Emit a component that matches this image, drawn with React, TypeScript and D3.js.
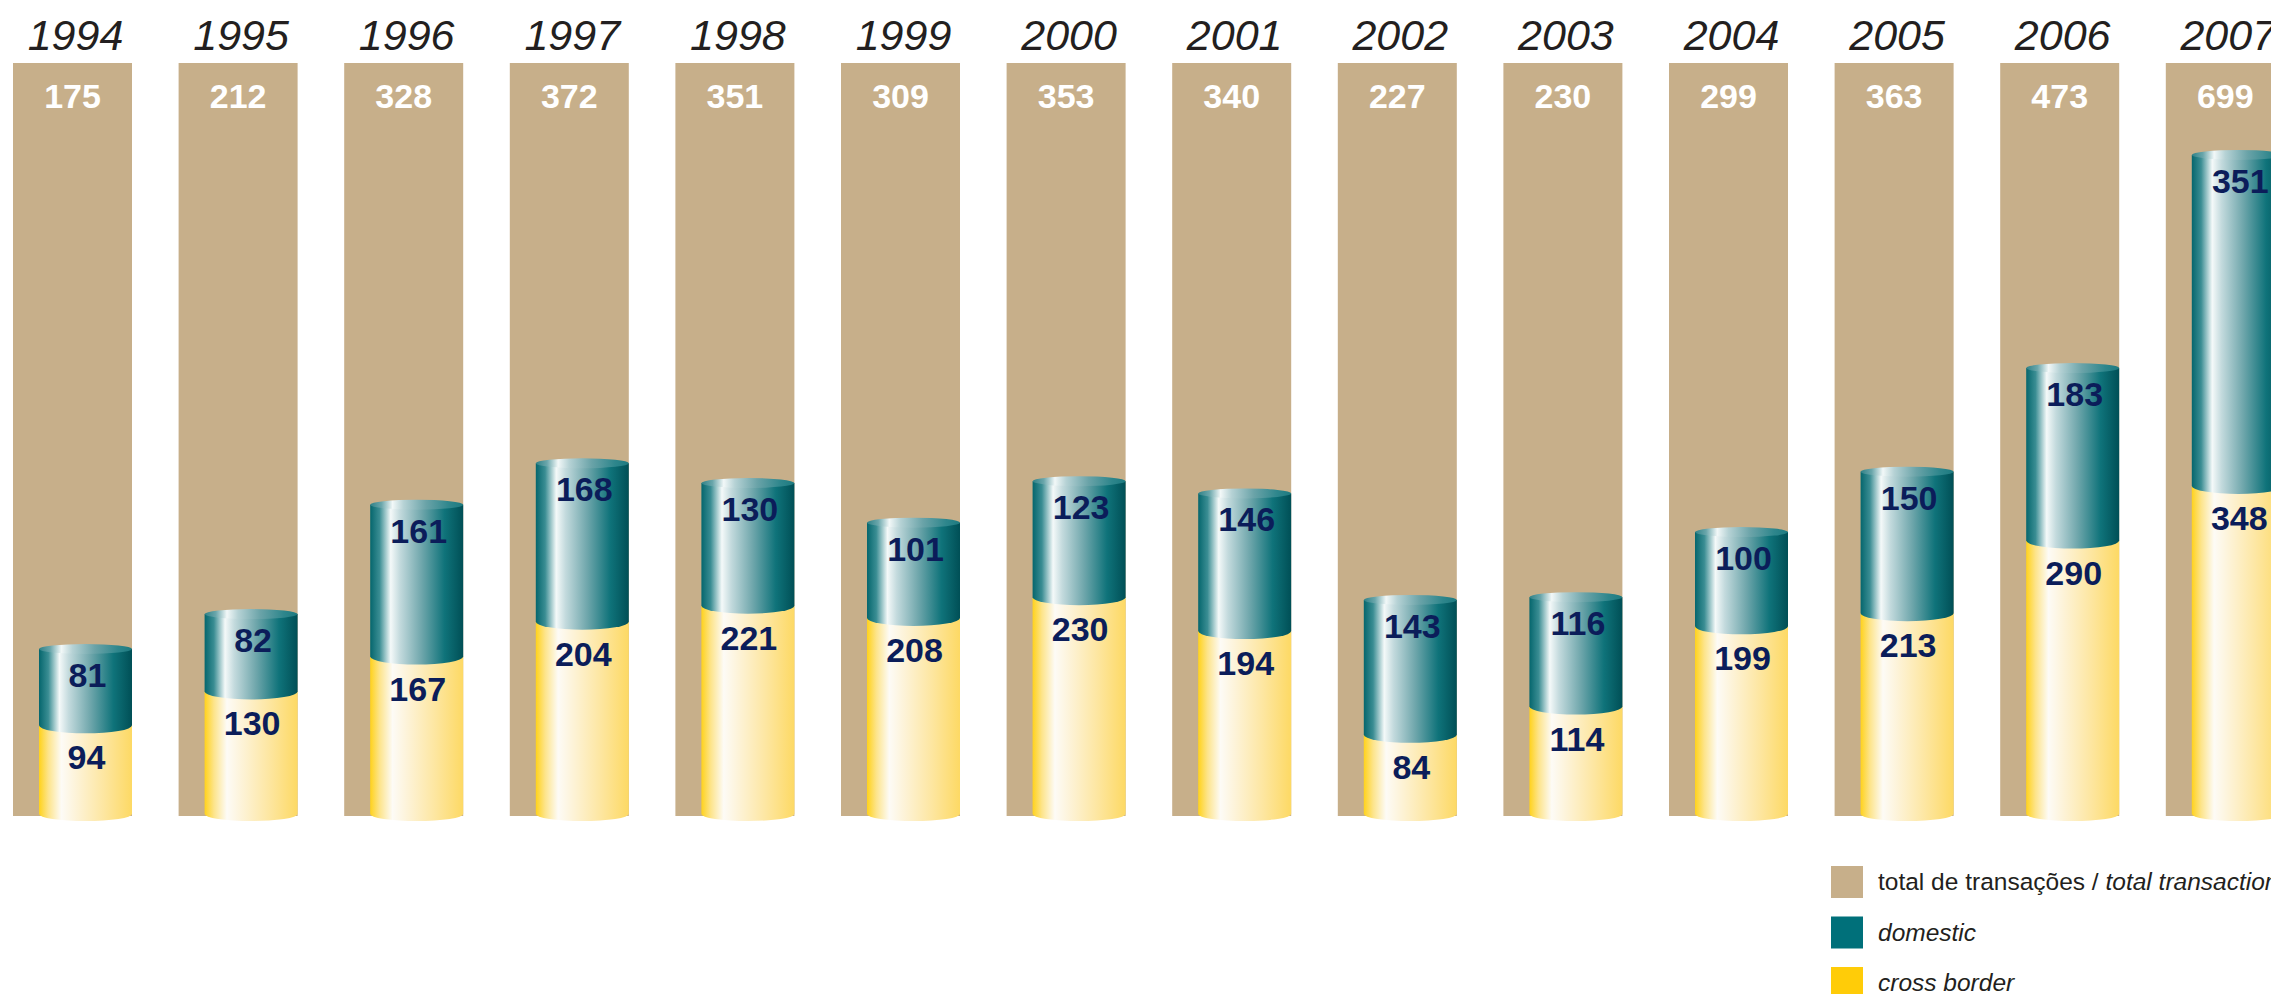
import React, { useEffect, useRef } from 'react';
import * as d3 from 'd3';

const years = ['1994', '1995', '1996', '1997', '1998', '1999', '2000', '2001', '2002', '2003', '2004', '2005', '2006', '2007'];
const totals = [175, 212, 328, 372, 351, 309, 353, 340, 227, 230, 299, 363, 473, 699];
const domestic = [81, 82, 161, 168, 130, 101, 123, 146, 143, 116, 100, 150, 183, 351];
const crossBorder = [94, 130, 167, 204, 221, 208, 230, 194, 84, 114, 199, 213, 290, 348];

const legendItems = [
  { key: 'total', color: '#C7AF8A' },
  { key: 'domestic', color: '#00707A' },
  { key: 'cross', color: '#FFCC08' }
];

const WIDTH = 2271;
const HEIGHT = 994;
const FONT = '"Liberation Sans", Arial, Helvetica, sans-serif';

const App: React.FC = () => {
  const svgRef = useRef<SVGSVGElement>(null);

  useEffect(() => {
    document.body.style.margin = '0';
    document.body.style.overflow = 'hidden';
    if (!svgRef.current) return;

    const svg = d3.select(svgRef.current);
    svg.selectAll('*').remove();

    const defs = svg.append('defs');

    const addGradient = (id: string, stops: [number, string][]) => {
      const grad = defs.append('linearGradient')
        .attr('id', id)
        .attr('x1', '0').attr('x2', '1')
        .attr('y1', '0').attr('y2', '0');
      stops.forEach(([o, c]) => grad.append('stop').attr('offset', o).attr('stop-color', c));
    };

    addGradient('tealGrad', [
      [0, '#05666d'], [0.1, '#3a8d93'], [0.22, '#f4f9f9'], [0.32, '#c3dadd'],
      [0.55, '#70a7ac'], [0.8, '#0f737a'], [1, '#004f56']
    ]);
    addGradient('tealCap', [
      [0, '#2f8187'], [0.12, '#6aa6ab'], [0.24, '#f2f8f8'], [0.36, '#b6d2d5'],
      [0.6, '#6aa3a8'], [0.85, '#2e868c'], [1, '#1d7a80']
    ]);
    addGradient('yellowGrad', [
      [0, '#ffd21c'], [0.1, '#fde48a'], [0.24, '#fdfbf6'], [0.4, '#fdf3d8'],
      [0.7, '#fde6a0'], [1, '#fdd964']
    ]);

    const barTop = 63;
    const barBottom = 816;

    const x = d3.scaleBand<string>()
      .domain(years)
      .range([13, 13 + 13 * 165.6 + 119])
      .paddingInner(1 - 119 / 165.6)
      .paddingOuter(0);

    const y = d3.scaleLinear()
      .domain([0, 700])
      .range([814, 154]);

    const cylOffset = 26;
    const cylWidth = 93;
    const rx = cylWidth / 2;

    // cylinder body with a rounded (elliptical) bottom edge
    const segment = (x0: number, yTop: number, yBot: number, ry: number) =>
      `M${x0},${yTop}L${x0},${yBot}A${rx},${ry} 0 0 0 ${x0 + cylWidth},${yBot}L${x0 + cylWidth},${yTop}Z`;

    const g = svg.append('g');

    years.forEach((yr, i) => {
      const bx = x(yr) as number;
      const bw = x.bandwidth();
      const cx0 = bx + cylOffset;
      const cxm = cx0 + rx;

      // year label
      g.append('text')
        .attr('x', bx + bw / 2 + 3)
        .attr('y', 50)
        .attr('text-anchor', 'middle')
        .attr('font-family', FONT)
        .attr('font-style', 'italic')
        .attr('font-size', 43)
        .attr('fill', '#231f20')
        .text(yr);

      // total background bar
      g.append('rect')
        .attr('x', bx)
        .attr('y', barTop)
        .attr('width', bw)
        .attr('height', barBottom - barTop)
        .attr('fill', '#C7AF8A');

      g.append('text')
        .attr('x', bx + bw / 2)
        .attr('y', 108)
        .attr('text-anchor', 'middle')
        .attr('font-family', FONT)
        .attr('font-weight', 'bold')
        .attr('font-size', 34)
        .attr('fill', '#ffffff')
        .text(totals[i]);

      const yCross = y(crossBorder[i]);
      const yTotal = y(crossBorder[i] + domestic[i]);

      // cross border segment
      g.append('path')
        .attr('d', segment(cx0, yCross, y(0), 7))
        .attr('fill', 'url(#yellowGrad)');

      // domestic segment
      g.append('path')
        .attr('d', segment(cx0, yTotal, yCross, 8))
        .attr('fill', 'url(#tealGrad)');

      g.append('ellipse')
        .attr('cx', cxm)
        .attr('cy', yTotal)
        .attr('rx', rx)
        .attr('ry', 5)
        .attr('fill', 'url(#tealCap)');

      g.append('text')
        .attr('x', cxm + 2)
        .attr('y', yTotal + 38)
        .attr('text-anchor', 'middle')
        .attr('font-family', FONT)
        .attr('font-weight', 'bold')
        .attr('font-size', 34)
        .attr('fill', '#0b1d5a')
        .text(domestic[i]);

      g.append('text')
        .attr('x', cxm + 1)
        .attr('y', yCross + 44)
        .attr('text-anchor', 'middle')
        .attr('font-family', FONT)
        .attr('font-weight', 'bold')
        .attr('font-size', 34)
        .attr('fill', '#0b1d5a')
        .text(crossBorder[i]);
    });

    // Legend
    const legend = svg.append('g').attr('transform', 'translate(1831,866)');
    legendItems.forEach((item, i) => {
      const row = legend.append('g').attr('transform', `translate(0,${i * 50.5})`);
      row.append('rect')
        .attr('width', 32)
        .attr('height', 32)
        .attr('fill', item.color);
      const t = row.append('text')
        .attr('x', 47)
        .attr('y', 24)
        .attr('font-family', FONT)
        .attr('font-size', 24.5)
        .attr('fill', '#231f20');
      if (item.key === 'total') {
        t.append('tspan').text('total de transações / ');
        t.append('tspan').attr('font-style', 'italic').text('total transactions');
      } else if (item.key === 'domestic') {
        t.attr('font-style', 'italic').text('domestic');
      } else {
        t.attr('font-style', 'italic').text('cross border');
      }
    });
  }, []);

  return (
    <div style={{ position: 'absolute', left: 0, top: 0, width: WIDTH, height: HEIGHT, overflow: 'hidden' }}>
      <svg ref={svgRef} width={WIDTH} height={HEIGHT} style={{ display: 'block', background: '#ffffff' }} />
    </div>
  );
};

export default App;
